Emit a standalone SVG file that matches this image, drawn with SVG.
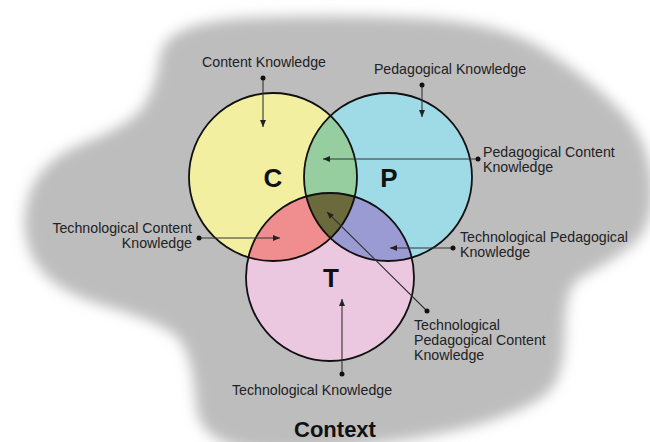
<svg xmlns="http://www.w3.org/2000/svg" width="650" height="442" viewBox="0 0 650 442">
<style>
.lbl{font-family:"Liberation Sans",Arial,sans-serif;font-size:14.2px;fill:#222}
.big{font-family:"Liberation Sans",Arial,sans-serif;font-weight:bold;fill:#111}
.ring{fill:none;stroke:#111;stroke-width:1.8}
.con{stroke:#333;stroke-width:1.1;fill:none;marker-start:url(#dot);marker-end:url(#arr)}
</style>
<defs>
<filter id="soft" filterUnits="userSpaceOnUse" x="-60" y="-60" width="780" height="580">
<feGaussianBlur stdDeviation="6.5"/>
</filter>
<marker id="arr" markerUnits="userSpaceOnUse" markerWidth="8" markerHeight="6" refX="7" refY="3" orient="auto">
<path d="M0,0 L7,3 L0,6 z" fill="#222"/>
</marker>
<marker id="dot" markerUnits="userSpaceOnUse" markerWidth="6" markerHeight="6" refX="3" refY="3">
<circle cx="3" cy="3" r="2.5" fill="#111"/>
</marker>
<clipPath id="clipC"><circle cx="273" cy="177" r="84"/></clipPath>
<clipPath id="clipP"><circle cx="388" cy="177" r="84"/></clipPath>
</defs>
<rect width="650" height="442" fill="#ffffff"/>
<g id="context-blob">
<path filter="url(#soft)" fill="#bdbdbe" d="M160,56 Q165,22 247.5,18 Q330,14 415,18 Q500,22 542.5,48.5 Q585,75 617.5,107.5 Q650,140 652.5,185 Q655,230 627.5,249 Q600,268 582.5,276.5 Q565,285 565,327.5 Q565,370 552.5,387.5 Q540,405 485,422.5 Q430,440 315,450 Q200,460 196,405 Q192,350 176,336 Q160,322 105,306 Q50,290 34,260 Q18,230 29,195 Q40,160 85,142.5 Q130,125 142.5,107.5 Q155,90 160,56 Z"/>
</g>
<g id="node-C"><circle cx="273" cy="177" r="84" fill="#f2f0a0"/></g>
<g id="node-P"><circle cx="388" cy="177" r="84" fill="#9fdae7"/></g>
<g id="node-T"><circle cx="330" cy="277" r="84" fill="#ecc7e0"/></g>
<g id="node-CP" clip-path="url(#clipC)"><circle cx="388" cy="177" r="84" fill="#97cea0"/></g>
<g id="node-CT" clip-path="url(#clipC)"><circle cx="330" cy="277" r="84" fill="#ef8d8f"/></g>
<g id="node-PT" clip-path="url(#clipP)"><circle cx="330" cy="277" r="84" fill="#9b9bd3"/></g>
<g id="node-CPT" clip-path="url(#clipC)"><g clip-path="url(#clipP)"><circle cx="330" cy="277" r="84" fill="#6a6a3c"/></g></g>
<g id="outlines">
<circle class="ring" cx="273" cy="177" r="84"/>
<circle class="ring" cx="388" cy="177" r="84"/>
<circle class="ring" cx="330" cy="277" r="84"/>
</g>
<g id="letters">
<text class="big" x="273" y="187" font-size="26" text-anchor="middle">C</text>
<text class="big" x="389" y="187" font-size="26" text-anchor="middle">P</text>
<text class="big" x="331" y="287" font-size="26" text-anchor="middle">T</text>
</g>
<g id="connectors">
<line class="con" x1="263" y1="78" x2="263" y2="127"/>
<line class="con" x1="422" y1="85" x2="422" y2="117"/>
<line class="con" x1="478" y1="159" x2="323" y2="159"/>
<line class="con" x1="199" y1="238" x2="280" y2="238"/>
<line class="con" x1="453" y1="248" x2="390" y2="248"/>
<line class="con" x1="427" y1="311" x2="327" y2="212"/>
<line class="con" x1="342" y1="374" x2="342" y2="299"/>
</g>
<g id="label-CK"><text class="lbl" x="264" y="67" text-anchor="middle">Content Knowledge</text></g>
<g id="label-PK"><text class="lbl" x="450" y="74" text-anchor="middle">Pedagogical Knowledge</text></g>
<g id="label-PCK"><text class="lbl" x="483" y="157">Pedagogical Content</text><text class="lbl" x="483" y="172">Knowledge</text></g>
<g id="label-TCK"><text class="lbl" x="192" y="233" text-anchor="end">Technological Content</text><text class="lbl" x="192" y="248" text-anchor="end">Knowledge</text></g>
<g id="label-TPK"><text class="lbl" x="460" y="242">Technological Pedagogical</text><text class="lbl" x="460" y="257">Knowledge</text></g>
<g id="label-TPCK"><text class="lbl" x="414" y="330">Technological</text><text class="lbl" x="414" y="345">Pedagogical Content</text><text class="lbl" x="414" y="360">Knowledge</text></g>
<g id="label-TK"><text class="lbl" x="312" y="395" text-anchor="middle">Technological Knowledge</text></g>
<g id="label-context"><text class="big" x="335" y="437" font-size="22" text-anchor="middle">Context</text></g>
</svg>
